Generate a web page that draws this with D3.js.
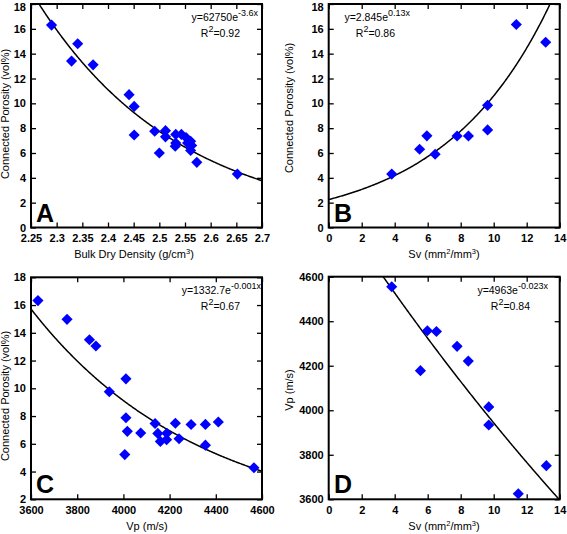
<!DOCTYPE html>
<html>
<head>
<meta charset="utf-8">
<script src="https://cdn.jsdelivr.net/npm/d3@7"></script>
<style>
html,body{margin:0;padding:0;background:#fff;}
svg{display:block;}
text{font-family:"Liberation Sans",Arial,Helvetica,sans-serif;}
</style>
</head>
<body>
<svg id="chart" width="567" height="534"></svg>
<script>
// ---------------- DATA ----------------
// Panel A: bulk dry density vs connected porosity
const densityA = [2.290,2.329,2.341,2.371,2.441,2.451,2.451,2.491,2.500,2.512,2.512,2.532,2.532,2.531,2.543,2.552,2.555,2.561,2.563,2.561,2.573,2.652];
const porosityA = [16.3,13.4,14.8,13.1,10.7,9.75,7.45,7.75,6.0,7.8,7.3,7.5,6.8,6.55,7.5,7.25,6.8,6.95,6.6,6.2,5.25,4.3];
// Panel B: Sv vs connected porosity
const svB = [3.82,5.51,5.95,6.45,7.78,8.47,9.63,9.63,11.37,13.15];
const porosityB = [4.3,6.3,7.38,5.9,7.37,7.37,9.84,7.86,16.35,14.92];
// Panel C: Vp vs connected porosity
const vpC = [3630,3756,3853,3881,3939,4011,4011,4017,4006,4075,4137,4149,4160,4187,4188,4225,4241,4293,4355,4355,4411,4565];
const porosityC = [16.32,14.97,13.5,13.05,9.75,10.68,7.88,6.9,5.22,6.78,7.46,6.75,6.17,6.3,6.76,7.48,6.36,7.39,7.4,5.9,7.57,4.27];
// Panel D: Sv vs Vp
const svD = [3.82,5.98,6.53,5.56,7.78,8.46,9.70,9.70,11.49,13.19];
const vpD = [4555,4357,4354,4178,4287,4221,4015,3934,3625,3751];

// tick values / labels
const ticksDensity = [2.25,2.3,2.35,2.4,2.45,2.5,2.55,2.6,2.65,2.7];
const ticksPorosity = [0,2,4,6,8,10,12,14,16,18];
const ticksPorosityC = [2,4,6,8,10,12,14,16,18];
const ticksSv = [0,2,4,6,8,10,12,14];
const ticksVp = [3600,3800,4000,4200,4400,4600];

// fitted exponential trend curves y = a*exp(b*x) (as drawn)
const fitA = {a:62750, b:-3.6, eq:"y=62750e", sup:"-3.6x", r2:"=0.92"};
const fitB = {a:2.25, b:0.155, eq:"y=2.845e", sup:"0.13x", r2:"=0.86"};
const fitC = {a:2117, b:-0.001362, eq:"y=1332.7e", sup:"-0.001x", r2:"=0.67"};
const fitD = {a:4963, b:-0.023, eq:"y=4963e", sup:"-0.023x", r2:"=0.84"};

// ---------------- DRAW ----------------
const svg = d3.select("#chart");

const panels = [
  {id:"A", xs:densityA, ys:porosityA, xd:[2.25,2.7], xr:[31,262], yd:[0,18], yr:[227.5,4],
   xt:ticksDensity, yt:ticksPorosity, fit:fitA, xfmt:d=>String(d),
   xtitle:["Bulk Dry Density (g/cm","3",")"], xtx:134, xty:258,
   ytitle:"Connected Porosity (vol%)", ytx:9, yty:114, eqx:258, eqy:21, r2x:240, r2y:37,
   lx:36, ly:222},
  {id:"B", xs:svB, ys:porosityB, xd:[0,14], xr:[328.7,559.7], yd:[0,18], yr:[227.5,4],
   xt:ticksSv, yt:ticksPorosity, fit:fitB, xfmt:d=>String(d),
   xtitle:["Sv (mm","2","/mm","3",")"], xtx:444, xty:258,
   ytitle:"Connected Porosity (vol%)", ytx:293, yty:108, eqx:410, eqy:21, r2x:395, r2y:37,
   lx:334, ly:222},
  {id:"C", xs:vpC, ys:porosityC, xd:[3600,4600], xr:[31,262], yd:[2,18], yr:[499.3,277.3],
   xt:ticksVp, yt:ticksPorosityC, fit:fitC, xfmt:d=>String(d),
   xtitle:["Vp (m/s)"], xtx:147, xty:530,
   ytitle:"Connected Porosity (vol%)", ytx:9, yty:396, eqx:261, eqy:294, r2x:240, r2y:310,
   lx:36, ly:493},
  {id:"D", xs:svD, ys:vpD, xd:[0,14], xr:[328.7,559.7], yd:[3600,4600], yr:[499.3,276.7],
   xt:ticksSv, yt:ticksVp, fit:fitD, xfmt:d=>String(d),
   xtitle:["Sv (mm","2","/mm","3",")"], xtx:444, xty:530,
   ytitle:"Vp (m/s)", ytx:293, yty:390, eqx:548, eqy:294, r2x:530, r2y:310,
   lx:334, ly:493}
];

panels.forEach((p,i)=>{
  const x = d3.scaleLinear().domain(p.xd).range(p.xr);
  const y = d3.scaleLinear().domain(p.yd).range(p.yr);
  const g = svg.append("g");
  const x0=p.xr[0], x1=p.xr[1], y0=p.yr[0], y1=p.yr[1];

  const clipId = "clip"+p.id;
  svg.append("clipPath").attr("id",clipId).append("rect")
    .attr("x",x0).attr("y",y1).attr("width",x1-x0).attr("height",y0-y1);

  // axes with inward ticks
  const ax = [
    {a:d3.axisBottom(x).tickValues(p.xt).tickFormat(p.xfmt).tickSize(-5).tickPadding(7), t:`translate(0,${y0})`},
    {a:d3.axisTop(x).tickValues(p.xt).tickFormat("").tickSize(-5), t:`translate(0,${y1})`},
    {a:d3.axisLeft(y).tickValues(p.yt).tickFormat(d=>String(d)).tickSize(-5).tickPadding(5), t:`translate(${x0},0)`, left:true},
    {a:d3.axisRight(y).tickValues(p.yt).tickFormat("").tickSize(-5), t:`translate(${x1},0)`}
  ];
  ax.forEach(o=>{
    const ag = g.append("g").attr("transform",o.t).call(o.a);
    ag.select(".domain").remove();
    ag.selectAll(".tick line").attr("stroke","#000").attr("stroke-width",1.3);
    ag.selectAll(".tick text").attr("fill","#000")
      .style("font-family","'Liberation Sans',Arial,sans-serif")
      .style("font-size","11px").style("font-weight","bold");
    if(o.left && y1 < 10){
      // keep top label inside the page
      ag.selectAll(".tick text").filter(d=>d===p.yd[1]).attr("dy","0.55em");
    }
  });

  // frame
  g.append("rect").attr("x",x0).attr("y",y1).attr("width",x1-x0).attr("height",y0-y1)
    .attr("fill","none").attr("stroke","#000").attr("stroke-width",2);

  // fit curve
  const xsFit = d3.range(0,301).map(k=>p.xd[0]+(p.xd[1]-p.xd[0])*k/300);
  const line = d3.line().x(d=>x(d)).y(d=>y(p.fit.a*Math.exp(p.fit.b*d)));
  g.append("path").datum(xsFit).attr("d",line)
    .attr("clip-path",`url(#${clipId})`)
    .attr("fill","none").attr("stroke","#000").attr("stroke-width",1.5);

  // points (diamonds)
  const sym = d3.symbol().type(d3.symbolSquare).size(62);
  g.selectAll("path.pt").data(p.xs.map((v,k)=>[v,p.ys[k]])).join("path")
    .attr("class","pt")
    .attr("d",sym)
    .attr("transform",d=>`translate(${x(d[0])},${y(d[1])}) rotate(45)`)
    .attr("fill","#0000ff");

  // equation
  const eq = g.append("text").attr("x",p.eqx).attr("y",p.eqy).attr("text-anchor","end")
    .style("font-size","10.5px").attr("fill","#000");
  eq.append("tspan").text(p.fit.eq);
  eq.append("tspan").attr("dy",-5).style("font-size","9px").text(p.fit.sup);
  const r2 = g.append("text").attr("x",p.r2x).attr("y",p.r2y).attr("text-anchor","end")
    .style("font-size","10.5px").attr("fill","#000");
  r2.append("tspan").text("R");
  r2.append("tspan").attr("dy",-5).style("font-size","9px").text("2");
  r2.append("tspan").attr("dy",5).text(p.fit.r2);

  // x title
  const xt = g.append("text").attr("x",p.xtx).attr("y",p.xty).attr("text-anchor","middle")
    .style("font-size","11px").attr("fill","#000");
  p.xtitle.forEach((s,k)=>{
    const isSup = (s==="2"||s==="3");
    const prevSup = k>0 && (p.xtitle[k-1]==="2"||p.xtitle[k-1]==="3");
    const ts = xt.append("tspan").text(s);
    if(isSup) ts.attr("dy",-4).style("font-size","7.5px");
    else if(prevSup) ts.attr("dy",4);
  });

  // y title
  g.append("text").attr("transform",`translate(${p.ytx},${p.yty}) rotate(-90)`)
    .attr("text-anchor","middle").style("font-size","11px").attr("fill","#000")
    .text(p.ytitle);

  // panel letter
  g.append("text").attr("x",p.lx).attr("y",p.ly)
    .style("font-size","25px").style("font-weight","bold").attr("fill","#000")
    .text(p.id);
});
</script>
</body>
</html>
